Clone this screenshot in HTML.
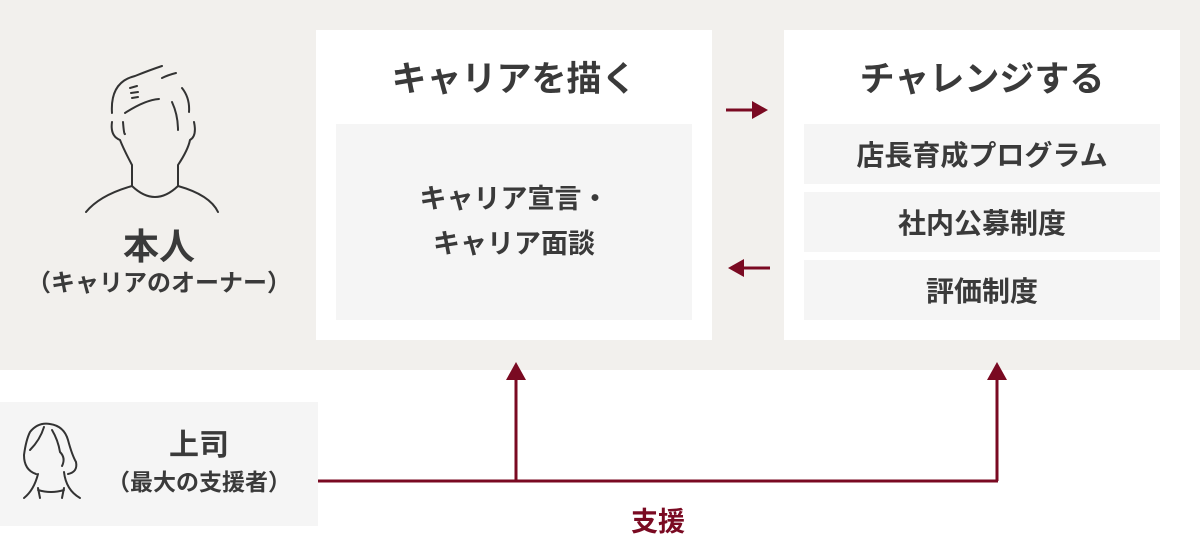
<!DOCTYPE html>
<html><head><meta charset="utf-8"><style>
body{margin:0;width:1200px;height:542px;background:#fff;position:relative;overflow:hidden;font-family:"Liberation Sans","Noto Sans CJK JP",sans-serif;color:#3a3a3a;font-weight:bold}
.a{position:absolute}
.t{position:absolute;text-align:center;white-space:nowrap}
</style></head><body>
<div class="a" style="left:0;top:0;width:1200px;height:370px;background:#f2f0ed"></div>
<div class="a" style="left:316px;top:30px;width:396px;height:310px;background:#fff"></div>
<div class="a" style="left:784px;top:30px;width:396px;height:310px;background:#fff"></div>
<div class="a" style="left:336px;top:124px;width:356px;height:196px;background:#f5f5f5"></div>
<div class="a" style="left:804px;top:124px;width:356px;height:60px;background:#f5f5f5"></div>
<div class="a" style="left:804px;top:192px;width:356px;height:60px;background:#f5f5f5"></div>
<div class="a" style="left:804px;top:260px;width:356px;height:60px;background:#f5f5f5"></div>
<div class="a" style="left:0;top:402px;width:318px;height:124px;background:#f5f5f5"></div>

<div class="t" style="left:316px;top:58px;width:396px;font-size:35px;line-height:44px">キャリアを描く</div>
<div class="t" style="left:784px;top:58px;width:396px;font-size:35px;line-height:44px">チャレンジする</div>
<div class="t" style="left:336px;top:177px;width:356px;font-size:27px;line-height:45px">キャリア宣言・<br>キャリア面談</div>
<div class="t" style="left:804px;top:138px;width:356px;font-size:28px;line-height:36px">店長育成プログラム</div>
<div class="t" style="left:804px;top:206px;width:356px;font-size:28px;line-height:36px">社内公募制度</div>
<div class="t" style="left:804px;top:274px;width:356px;font-size:28px;line-height:36px">評価制度</div>
<div class="t" style="left:0;top:225px;width:318px;font-size:36px;line-height:44px">本人</div>
<div class="t" style="left:0;top:268px;width:318px;font-size:24px;line-height:32px">（キャリアのオーナー）</div>
<div class="t" style="left:99px;top:426px;width:200px;font-size:30px;line-height:40px">上司</div>
<div class="t" style="left:99px;top:467px;width:200px;font-size:23px;line-height:30px">（最大の支援者）</div>
<div class="t" style="left:608px;top:505px;width:100px;font-size:27px;line-height:34px;color:#7a0a22">支援</div>

<svg class="a" style="left:0;top:0" width="1200" height="542">
<g fill="none" stroke="#333" stroke-width="2" stroke-linecap="round">
<path d="M86 212 Q100 195 132 186 L132 165 Q124 150 120 140 Q110 136 112 122 M132 186 Q155 208 178 186 L178 165 Q188 150 190 140 Q197 136 194 122 M178 186 Q210 195 218 212"/>
<path d="M112 113 Q110 82 135 76 Q150 70 162 66 M162 78 Q168 75 176 73 M182 88 Q190 98 189 112 M125 113 Q145 100 159 99 M172 102 Q178 115 178 130 M123 122 Q124 135 125 134 M130 88 L137 86 M131 93 L138 92 M132 98 L138 97"/>
<path d="M36 474 Q24 470 24 455 Q26 440 30 432 Q38 422 50 424 Q64 426 68 440 Q72 455 76 462 Q78 472 68 474 M44 427 Q40 440 30 450 M52 430 Q58 440 60 452 Q66 458 62 466 M38 474 Q34 490 24 498 M64 472 Q66 490 80 498 M38 488 L40 498 M64 488 L62 498 M38 490 Q51 494 64 490"/>
</g>
<g stroke="#7a0a22" stroke-width="3" fill="none">
<path d="M318 481 H998 M516 481 V378 M997 481 V378 M726 110 H754 M770 268 H742"/>
</g>
<g fill="#7a0a22">
<path d="M516 362 L506 380 L526 380Z M997 362 L987 380 L1007 380Z M768 110 L752 101 L752 119Z M728 268 L744 259 L744 277Z"/>
</g>
</svg>
</body></html>
